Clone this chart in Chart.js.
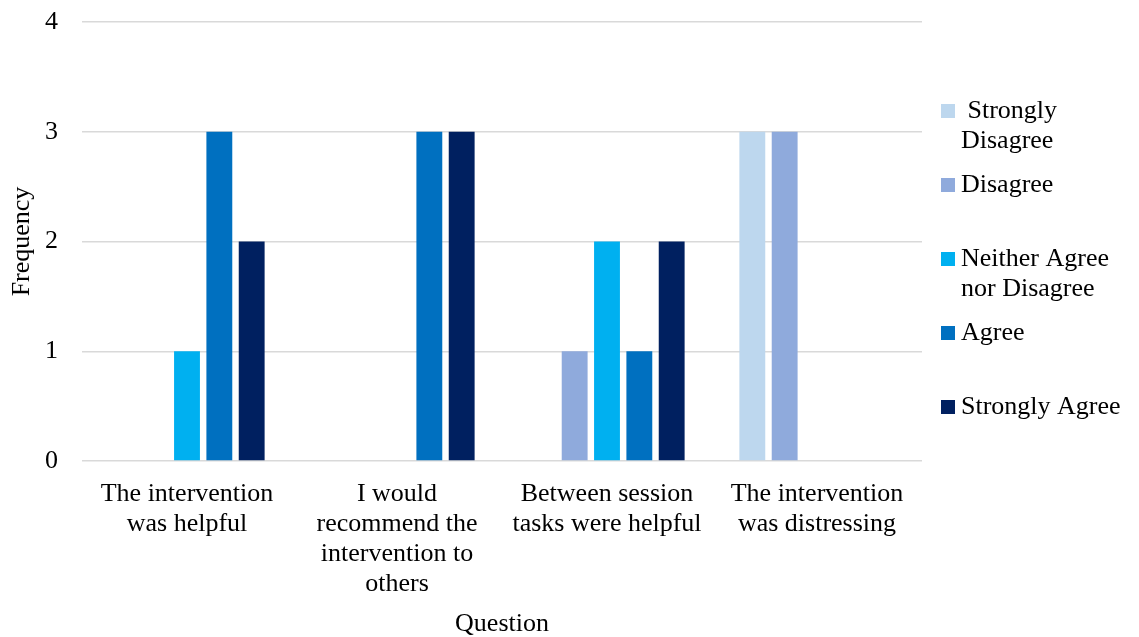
<!DOCTYPE html>
<html>
<head>
<meta charset="utf-8">
<script src="https://cdn.jsdelivr.net/npm/chart.js@4"></script>
<style>
html,body{margin:0;padding:0;background:#fff;}
#wrap{width:1139px;height:637px;position:relative;}
</style>
</head>
<body>
<div id="wrap"><canvas id="c" width="1139" height="637"></canvas></div>
<script>
const categories = [
  ["The intervention","was helpful"],
  ["I would","recommend the","intervention to","others"],
  ["Between session","tasks were helpful"],
  ["The intervention","was distressing"]
];
const seriesNames = ["Strongly Disagree","Disagree","Neither Agree nor Disagree","Agree","Strongly Agree"];
const legendLines = [[" Strongly","Disagree"],["Disagree"],["Neither Agree","nor Disagree"],["Agree"],["Strongly Agree"]];
const stronglyDisagree = [0,0,0,3];
const disagree = [0,0,1,3];
const neither = [1,0,2,0];
const agree = [3,3,1,0];
const stronglyAgree = [2,3,2,0];
const yTicks = [0,1,2,3,4];
const colors = ["#BDD7EE","#8FAADC","#00B0F0","#0070C0","#002060"];
const seriesValues = [stronglyDisagree, disagree, neither, agree, stronglyAgree];

const FONT = "'Liberation Serif','Times New Roman',serif";

const legendPlugin = {
  id: 'customLegend',
  afterDraw(chart) {
    const ctx = chart.ctx;
    ctx.save();
    ctx.font = "26px " + FONT;
    ctx.textBaseline = 'middle';
    ctx.textAlign = 'left';
    const x0 = 941, size = 14, y0 = 111, step = 74;
    legendLines.forEach((lines, i) => {
      const cy = y0 + i * step;
      ctx.fillStyle = colors[i];
      ctx.fillRect(x0, cy - size/2, size, size);
      ctx.fillStyle = '#000';
      lines.forEach((t, j) => ctx.fillText(t, 961, cy + j * 30));
    });
    ctx.restore();
  }
};

new Chart(document.getElementById('c'), {
  type: 'bar',
  data: {
    labels: categories,
    datasets: seriesNames.map((n, i) => ({
      label: n,
      data: seriesValues[i],
      backgroundColor: colors[i],
      borderWidth: 0,
      categoryPercentage: 0.77,
      barPercentage: 0.8
    }))
  },
  options: {
    responsive: false,
    animation: false,
    layout: { padding: { top: 22, right: 217, left: 0, bottom: 0 } },
    plugins: { legend: { display: false }, tooltip: { enabled: false } },
    scales: {
      x: {
        grid: { display: false },
        border: { display: false },
        ticks: { font: { family: FONT, size: 26, lineHeight: 1.16 }, color: '#000', padding: 10, maxRotation: 0, autoSkip: false },
        title: { display: true, text: 'Question', font: { family: FONT, size: 26, lineHeight: 1.0 }, color: '#000', padding: { top: 0, bottom: 0 } },
        afterFit(s) { s.height = 176; }
      },
      y: {
        min: 0, max: 4,
        afterBuildTicks(s) { s.ticks = yTicks.map(v => ({ value: v })); },
        grid: { color: '#d9d9d9', lineWidth: 1.5, drawTicks: false },
        border: { display: false },
        ticks: { font: { family: FONT, size: 26 }, color: '#000', padding: 24 },
        title: { display: true, text: 'Frequency', font: { family: FONT, size: 26 }, color: '#000', padding: { top: 7, bottom: 0 } },
        afterFit(s) { s.width = 82; s.paddingTop = 0; s.paddingBottom = 0; }
      }
    }
  },
  plugins: [legendPlugin]
});
</script>
</body>
</html>
